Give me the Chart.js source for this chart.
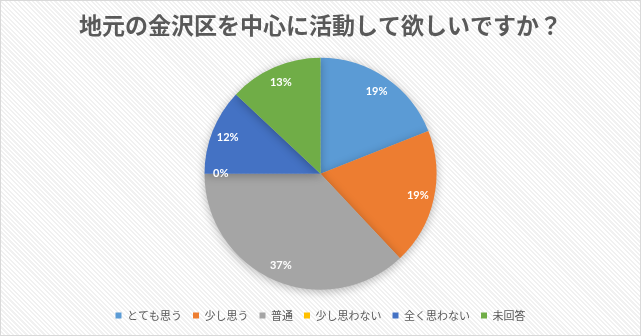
<!DOCTYPE html>
<html lang="ja">
<head>
<meta charset="utf-8">
<title>地元の金沢区を中心に活動して欲しいですか？</title>
<script src="https://cdn.jsdelivr.net/npm/chart.js@4.4.1/dist/chart.umd.min.js"></script>
<style>
  html, body { margin: 0; padding: 0; background: #fff; }
  #wrap {
    position: relative;
    width: 639px;
    height: 334px;
    border: 1px solid #d9d9d9;
    background: repeating-linear-gradient(45deg, #ffffff 0px, #ffffff 1.6px, #f1f1f1 1.6px, #f1f1f1 3.2px);
  }
  canvas { display: block; }
</style>
</head>
<body>
<div id="wrap"><canvas id="pieChart" width="639" height="334"></canvas></div>
<script>
// Answers to the survey question
const answers = ['とても思う', '少し思う', '普通', '少し思わない', '全く思わない', '未回答'];
const percents = [19, 19, 37, 0, 12, 13];
const sliceColors = ['#5B9BD5', '#ED7D31', '#A5A5A5', '#FFC000', '#4472C4', '#70AD47'];

const jpFont = "'Noto Sans CJK JP', 'Noto Sans', sans-serif";

// soft shadow under the pie
const pieShadow = {
    id: 'pieShadow',
    beforeDatasetsDraw(chart) {
        const ctx = chart.ctx;
        ctx.save();
        ctx.shadowColor = 'rgba(0, 0, 0, 0.28)';
        ctx.shadowBlur = 10;
        ctx.shadowOffsetY = 2;
    },
    afterDatasetsDraw(chart) {
        chart.ctx.restore();
    }
};

// percentage labels inside each slice
const sliceLabels = {
    id: 'sliceLabels',
    afterDatasetsDraw(chart) {
        const ctx = chart.ctx;
        const meta = chart.getDatasetMeta(0);
        const values = chart.data.datasets[0].data;
        ctx.save();
        ctx.fillStyle = '#ffffff';
        ctx.font = "bold 11px Lato, 'Liberation Sans', sans-serif";
        ctx.textAlign = 'center';
        ctx.textBaseline = 'middle';
        meta.data.forEach((arc, i) => {
            const p = arc.getProps(['x', 'y', 'startAngle', 'endAngle', 'outerRadius'], true);
            const mid = (p.startAngle + p.endAngle) / 2;
            const r = p.outerRadius * 0.86;
            ctx.fillText(values[i] + '%', p.x + Math.cos(mid) * r, p.y + Math.sin(mid) * r);
        });
        ctx.restore();
    }
};

new Chart(document.getElementById('pieChart'), {
    type: 'pie',
    data: {
        labels: answers,
        datasets: [{
            data: percents,
            backgroundColor: sliceColors,
            borderWidth: 0,
            radius: 116
        }]
    },
    options: {
        responsive: false,
        animation: false,
        layout: { padding: { top: 0, bottom: 4, left: 0, right: 0 } },
        plugins: {
            title: {
                display: true,
                text: '地元の金沢区を中心に活動して欲しいですか？',
                color: '#595959',
                font: { family: jpFont, size: 23, weight: 'bold', lineHeight: 1.2 },
                padding: { top: 10, bottom: 10 }
            },
            legend: {
                position: 'bottom',
                labels: {
                    color: '#595959',
                    font: { family: jpFont, size: 11 },
                    boxWidth: 6,
                    boxHeight: 6,
                    padding: 11
                }
            },
            tooltip: { enabled: false }
        }
    },
    plugins: [pieShadow, sliceLabels]
});
</script>
</body>
</html>
